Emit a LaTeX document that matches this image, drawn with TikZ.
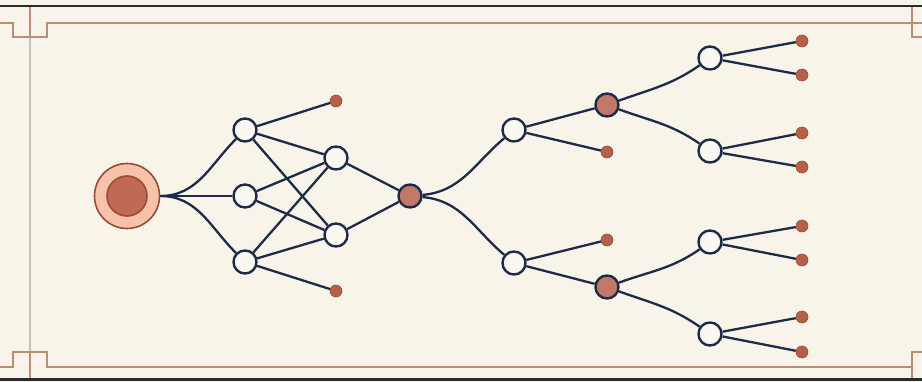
\documentclass[tikz,border=0pt]{standalone}
\usetikzlibrary{backgrounds}
\definecolor{paper}{HTML}{F8F4EA}
\definecolor{rule}{HTML}{2A2A2A}
\definecolor{trim}{HTML}{BC8C7A}
\definecolor{guide}{HTML}{C9C3BA}
\definecolor{navy}{HTML}{1E2B48}
\definecolor{rust}{HTML}{B4604A}
\definecolor{rustdark}{HTML}{9A4A38}
\definecolor{peach}{HTML}{F6C2A9}
\definecolor{clay}{HTML}{C06A56}
\definecolor{knot}{HTML}{C27866}
\tikzset{
  link/.style={draw=navy, line width=2.3pt},
  hollow/.style={circle, draw=navy, line width=2.4pt, fill=paper!60!white, minimum size=23pt, inner sep=0pt},
  filled/.style={circle, draw=navy, line width=2.4pt, fill=knot, minimum size=23pt, inner sep=0pt},
  leaf/.style={circle, draw=rustdark, line width=0.6pt, fill=rust, minimum size=12pt, inner sep=0pt},
  frameline/.style={line width=2.2pt, draw=rule},
  trimline/.style={line width=1.2pt, draw=trim},
}
\begin{document}
\begin{tikzpicture}[x=1pt, y=-1pt]
  \useasboundingbox (0,0) rectangle (922,382);

  % root
  \node[circle, draw=rustdark, line width=1.6pt, fill=peach, minimum size=65pt, inner sep=0pt] (root) at (127,196) {};
  \node[circle, draw=rustdark, line width=1.6pt, fill=clay, minimum size=40pt, inner sep=0pt] (rootcore) at (127,196) {};

  % first fan
  \node[hollow] (a1) at (245,130) {};
  \node[hollow] (a2) at (245,196) {};
  \node[hollow] (a3) at (245,262) {};
  \node[hollow] (m1) at (336,158) {};
  \node[hollow] (m2) at (336,235) {};
  \node[leaf] (p1) at (336,101) {};
  \node[leaf] (p2) at (336,291) {};
  \node[filled] (hub) at (410,196) {};

  % second stage
  \node[hollow] (b1) at (514,130) {};
  \node[hollow] (b2) at (514,263) {};
  \node[filled] (c1) at (607,105) {};
  \node[filled] (c2) at (607,287) {};
  \node[leaf] (q1) at (607,152) {};
  \node[leaf] (q2) at (607,240) {};

  % third stage
  \node[hollow] (d1) at (710,58) {};
  \node[hollow] (d2) at (710,151) {};
  \node[hollow] (d3) at (710,242) {};
  \node[hollow] (d4) at (710,334) {};
  \node[leaf] (e1) at (802,41) {};
  \node[leaf] (e2) at (802,75) {};
  \node[leaf] (e3) at (802,133) {};
  \node[leaf] (e4) at (802,167) {};
  \node[leaf] (e5) at (802,226) {};
  \node[leaf] (e6) at (802,260) {};
  \node[leaf] (e7) at (802,317) {};
  \node[leaf] (e8) at (802,352) {};

  % paper and frame behind everything
  \begin{scope}[on background layer]
    \fill[paper] (0,0) rectangle (922,382);
    \draw[guide, line width=1.8pt] (30,6) -- (30,380);
    \draw[trimline] (0,23) -- (13,23) -- (13,37) -- (47,37) -- (47,23) -- (922,23);
    \draw[trimline] (0,367) -- (13,367) -- (13,352) -- (47,352) -- (47,367) -- (912,367);
    \draw[trimline] (30,7) -- (30,37);
    \draw[trimline] (30,352) -- (30,380);
    \draw[trimline] (912,7) -- (912,37) -- (922,37);
    \draw[trimline] (912,380) -- (912,352) -- (922,352);
    \draw[frameline] (0,6) -- (922,6);
    \draw[frameline] (0,379.5) -- (922,379.5);
  \end{scope}

  % connectors
  \draw[link] (root.east) to[out=0, in=225] (a1);
  \draw[link] (root.east) -- (a2);
  \draw[link] (root.east) to[out=0, in=135] (a3);
  \draw[link] (a1) -- (p1);
  \draw[link] (a1) -- (m1);
  \draw[link] (a1) -- (m2);
  \draw[link] (a2) -- (m1);
  \draw[link] (a2) -- (m2);
  \draw[link] (a3) -- (m1);
  \draw[link] (a3) -- (m2);
  \draw[link] (a3) -- (p2);
  \draw[link] (m1) -- (hub);
  \draw[link] (m2) -- (hub);
  \draw[link] (hub) to[out=5, in=220] (b1);
  \draw[link] (hub) to[out=-5, in=140] (b2);
  \draw[link] (b1) -- (c1);
  \draw[link] (b1) -- (q1);
  \draw[link] (b2) -- (q2);
  \draw[link] (b2) -- (c2);
  \draw[link] (c1) to[out=20, in=215] (d1);
  \draw[link] (c1) to[out=-20, in=145] (d2);
  \draw[link] (c2) to[out=20, in=215] (d3);
  \draw[link] (c2) to[out=-20, in=145] (d4);
  \draw[link] (d1) -- (e1);
  \draw[link] (d1) -- (e2);
  \draw[link] (d2) -- (e3);
  \draw[link] (d2) -- (e4);
  \draw[link] (d3) -- (e5);
  \draw[link] (d3) -- (e6);
  \draw[link] (d4) -- (e7);
  \draw[link] (d4) -- (e8);
\end{tikzpicture}
\end{document}
